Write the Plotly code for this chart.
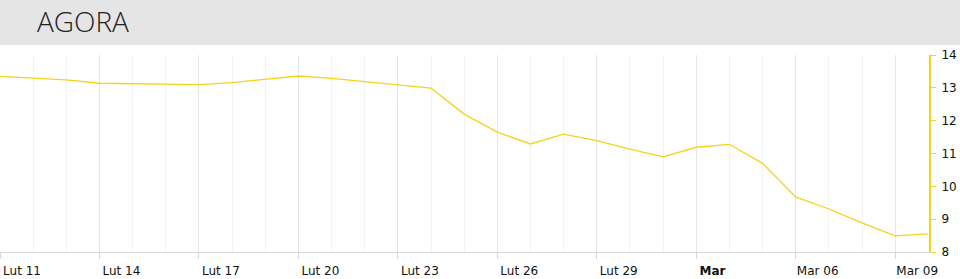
import plotly.graph_objects as go

dates = ["2016-02-%02d" % d for d in range(11, 30)] + ["2016-03-%02d" % d for d in range(1, 11)]
values = [13.35, 13.29, 13.24, 13.14, 13.13, 13.11, 13.10, 13.16, 13.26, 13.36,
          13.29, 13.19, 13.09, 12.99, 12.20, 11.65, 11.29, 11.59, 11.39, 11.13,
          10.90, 11.19, 11.28, 10.70, 9.68, 9.31, 8.89, 8.49, 8.55]
dates = dates[:len(values)]

tick_dates = ["2016-02-11", "2016-02-14", "2016-02-17", "2016-02-20", "2016-02-23",
              "2016-02-26", "2016-02-29", "2016-03-03", "2016-03-06", "2016-03-09"]
tick_labels = ["Lut 11", "Lut 14", "Lut 17", "Lut 20", "Lut 23",
               "Lut 26", "Lut 29", "<b>Mar</b>\u00a0\u00a0\u00a0", "Mar 06", "Mar 09"]

title_text = "AGORA"

W, H = 960, 279
ML, MR, MT, MB = 0, 31, 55, 27
pw = W - ML - MR
ph = H - MT - MB

fig = go.Figure()
fig.add_trace(go.Scatter(
    x=dates, y=values, mode="lines",
    line=dict(color="#f3d31c", width=1.3),
    hoverinfo="skip", showlegend=False,
))

fig.add_shape(type="rect", xref="paper", yref="paper",
              x0=-ML / pw, x1=(W - ML) / pw,
              y0=(ph + MT - 45) / ph, y1=(ph + MT) / ph,
              fillcolor="#e5e5e5", line=dict(width=0), layer="below")

fig.update_layout(
    width=W, height=H,
    margin=dict(l=ML, r=MR, t=MT, b=MB, pad=0),
    paper_bgcolor="white", plot_bgcolor="white",
    font=dict(family="DejaVu Sans", size=12, color="#111"),
    title=dict(text=title_text, xref="container", yref="container",
               x=37 / W, xanchor="left", y=1 - 22 / H, yanchor="middle",
               font=dict(family="Open Sans", size=28, color="#222", weight=300)),
    xaxis=dict(
        type="date",
        range=["2016-02-11 00:00", "2016-03-10 00:30"],
        tickvals=tick_dates, ticktext=tick_labels,
        ticks="outside", ticklen=6, tickcolor="#d6d6d6", tickwidth=1,
        ticklabelshift=22, ticklabelstandoff=2,
        showgrid=True, gridcolor="#e6e6e6", gridwidth=1,
        minor=dict(dtick=86400000, tick0="2016-02-11", showgrid=True,
                   gridcolor="#f3f3f3", gridwidth=1, ticks=""),
        showline=True, linecolor="#d9d9d9", linewidth=1,
        zeroline=False, fixedrange=True,
    ),
    yaxis=dict(
        side="right", range=[8, 14], dtick=1, tick0=8,
        showgrid=False, zeroline=False,
        showline=True, linecolor="#f3d31c", linewidth=2,
        ticks="outside", ticklen=5, tickcolor="#f3d31c", tickwidth=1,
        ticklabelstandoff=3, fixedrange=True,
    ),
)

fig.write_html("out.html")
